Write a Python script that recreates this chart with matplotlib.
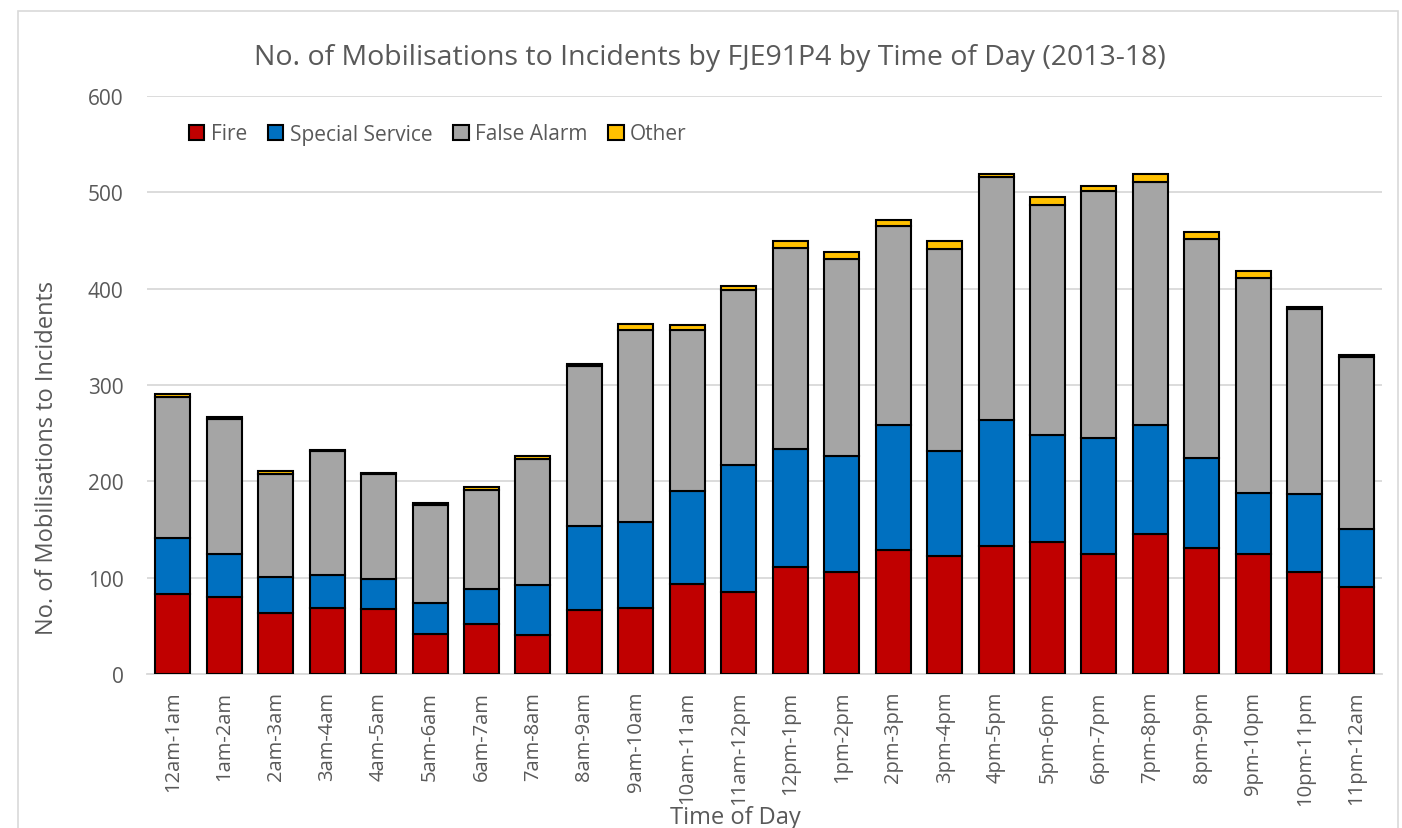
import matplotlib
matplotlib.use("Agg")
import matplotlib.pyplot as plt
import matplotlib.patches as mpatches
import numpy

time_slots = ["12am-1am", "1am-2am", "2am-3am", "3am-4am", "4am-5am", "5am-6am",
              "6am-7am", "7am-8am", "8am-9am", "9am-10am", "10am-11am", "11am-12pm",
              "12pm-1pm", "1pm-2pm", "2pm-3pm", "3pm-4pm", "4pm-5pm", "5pm-6pm",
              "6pm-7pm", "7pm-8pm", "8pm-9pm", "9pm-10pm", "10pm-11pm", "11pm-12am"]

fire = [83, 80, 63, 68, 67, 42, 52, 40, 66, 68, 93, 85,
        111, 106, 129, 122, 133, 137, 125, 145, 131, 125, 106, 90]
special_service = [58, 45, 38, 35, 32, 32, 36, 52, 88, 90, 97, 132,
                   123, 120, 129, 109, 131, 111, 120, 113, 93, 63, 81, 61]
false_alarm = [147, 140, 107, 129, 109, 101, 103, 131, 166, 199, 167, 182,
               208, 205, 207, 210, 252, 239, 256, 253, 228, 223, 192, 178]
other = [3, 2, 3, 1, 1, 3, 3, 3, 2, 6, 5, 4,
         7, 7, 6, 8, 3, 8, 6, 8, 7, 7, 2, 2]

series_names = ["Fire", "Special Service", "False Alarm", "Other"]
series_colors = ["#C00000", "#0070C0", "#A5A5A5", "#FFC000"]

text_color = "#595959"
grid_color = "#D9D9D9"
plt.rcParams["font.family"] = ["Open Sans", "DejaVu Sans"]

fig = plt.figure(figsize=(14.02, 8.29), dpi=100)
ax = fig.add_axes([147 / 1402, 1 - 675 / 829, (1382 - 147) / 1402, (675 - 97) / 829])

# outer chart border
fig.patches.append(mpatches.Rectangle((18 / 1402, -0.01), (1398 - 18) / 1402, 1 - 12 / 829 + 0.01,
                                      transform=fig.transFigure, fill=False,
                                      edgecolor=grid_color, linewidth=1.2, zorder=0))

x = numpy.arange(len(time_slots))
bottom = numpy.zeros(len(time_slots))
handles = []
for values, name, color in zip([fire, special_service, false_alarm, other], series_names, series_colors):
    values = numpy.array(values, dtype=float)
    bars = ax.bar(x, values, bottom=bottom, width=0.68, color=color,
                  edgecolor="black", linewidth=1.5, label=name, zorder=3)
    handles.append(bars)
    bottom += values

ax.set_xlim(-0.5, len(time_slots) - 0.5)
ax.set_ylim(0, 600)
ax.set_yticks(range(0, 601, 100))
ax.yaxis.grid(True, color=grid_color, linewidth=1.3, zorder=0)
ax.set_axisbelow(True)
for spine in ["top", "right", "left"]:
    ax.spines[spine].set_visible(False)
ax.spines["bottom"].set_color(grid_color)
ax.spines["bottom"].set_linewidth(1.3)
ax.tick_params(axis="y", length=0, labelsize=15, colors=text_color, pad=17)
ax.tick_params(axis="x", length=0, labelsize=14.5, colors=text_color, pad=12)
ax.set_xticks(x)
ax.set_xticklabels(time_slots, rotation=90)

fig.text(47 / 1402, 1 - 458 / 829, "No. of Mobilisations to Incidents", fontsize=17, color=text_color,
         ha="center", va="center", rotation=90)
fig.text(735 / 1402, 1 - 818 / 829, "Time of Day", fontsize=17, color=text_color,
         ha="center", va="center")
fig.text(710 / 1402, 1 - 58 / 829, "No. of Mobilisations to Incidents by FJE91P4 by Time of Day (2013-18)",
         fontsize=20.5, color=text_color, ha="center", va="center")

leg = ax.legend(handles=handles, loc="center left", bbox_to_anchor=(170 / 1402, 1 - 135 / 829),
                bbox_transform=fig.transFigure, ncol=4, frameon=False, fontsize=15,
                handlelength=0.75, handleheight=0.75, handletextpad=0.3, columnspacing=1.0)
for t in leg.get_texts():
    t.set_color(text_color)

fig.savefig("out.png", dpi=100)
